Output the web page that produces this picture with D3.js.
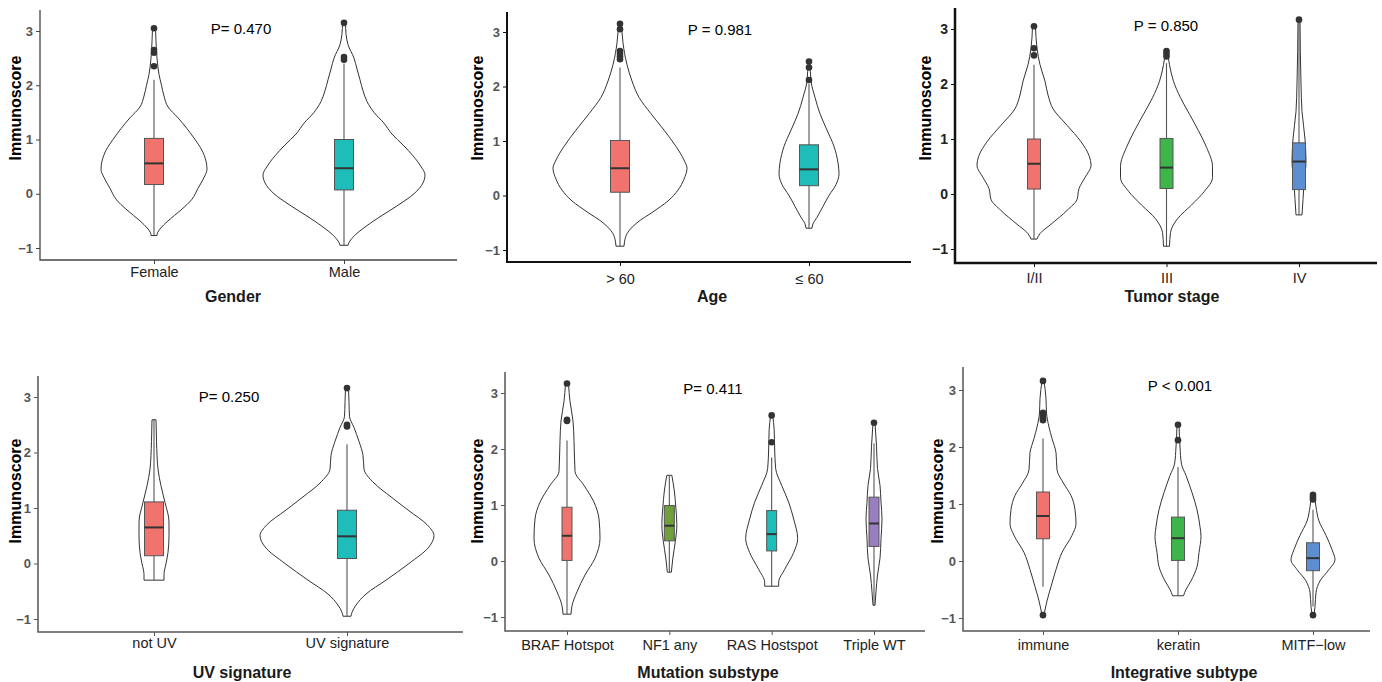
<!DOCTYPE html>
<html><head><meta charset="utf-8">
<script src="https://cdn.jsdelivr.net/npm/d3@7"></script>
<style>
body{margin:0;background:#fff}
svg{display:block}
text{font-family:"Liberation Sans", Arial, sans-serif}
</style>
</head><body>
<svg id="c" width="1382" height="682"></svg>
<script>
// ---------- shared tick data ----------
const yTicks = [3, 2, 1, 0, -1];
const yTickLabels = ["3", "2", "1", "0", "\u22121"];
const yTitle = "Immunoscore";

// ---------- Panel 1: Gender ----------
const genderCats = ["Female", "Male"];
const genderP = "P= 0.470";
// [lower whisker, Q1, median, Q3, upper whisker]
const genderBox = [[-0.77, 0.17, 0.56, 1.02, 2.1], [-0.95, 0.07, 0.47, 1.0, 2.4]];
const genderOut = [[3.05, 2.65, 2.6, 2.35], [3.15, 2.52, 2.47]];
// violin knots: [value, density]
const genderViolin = [
  [[3.05,1.5],[2.8,2],[2.5,3],[2.2,5],[2.0,7.5],[1.8,10],[1.6,14],[1.4,24],[1.2,33],[1.0,41],[0.8,48],[0.6,52],[0.45,53],[0.3,50],[0.1,44],[-0.1,38],[-0.3,27],[-0.5,14],[-0.65,6],[-0.72,3.5],[-0.77,3]],
  [[3.15,1.5],[2.95,2],[2.75,4],[2.5,10],[2.3,13],[2.1,16],[1.9,19],[1.7,23],[1.5,30],[1.3,40],[1.1,48],[0.9,59],[0.7,69],[0.5,77],[0.35,81],[0.2,79],[0.0,70],[-0.2,55],[-0.4,38],[-0.6,22],[-0.8,9],[-0.9,5],[-0.95,4]]
];

// ---------- Panel 2: Age ----------
const ageCats = ["> 60", "\u2264 60"];
const ageP = "P = 0.981";
const ageBox = [[-0.93, 0.06, 0.50, 1.01, 2.35], [-0.6, 0.18, 0.48, 0.93, 2.05]];
const ageOut = [[3.15, 3.05, 2.65, 2.6, 2.55, 2.5], [2.46, 2.35, 2.12]];
const ageViolin = [
  [[3.17,1.5],[2.8,3],[2.4,7],[2.1,12],[1.8,19],[1.5,31],[1.2,44],[0.9,56],[0.65,64],[0.5,67],[0.3,64],[0.1,58],[-0.1,48],[-0.3,33],[-0.5,17],[-0.7,7],[-0.85,4.5],[-0.93,4]],
  [[2.46,1],[2.1,2],[1.8,6],[1.5,11],[1.2,18],[0.9,25],[0.6,29],[0.4,30],[0.2,27],[0.0,20],[-0.2,14],[-0.4,8],[-0.52,4],[-0.6,3]]
];

// ---------- Panel 3: Tumor stage ----------
const stageCats = ["I/II", "III", "IV"];
const stageP = "P = 0.850";
const stageBox = [[-0.82, 0.09, 0.55, 1.0, 2.35], [-0.95, 0.1, 0.48, 1.01, 2.38], [-0.38, 0.08, 0.59, 0.93, 3.17]];
const stageOut = [[3.05, 2.65, 2.52], [2.6, 2.55, 2.5], [3.17]];
const stageViolin = [
  [[3.05,1.5],[2.65,3],[2.35,6],[2.05,11],[1.8,14],[1.55,19],[1.25,33],[0.95,47],[0.7,55],[0.52,57],[0.3,51],[0.1,45],[-0.1,43],[-0.3,33],[-0.55,17],[-0.72,6],[-0.82,3]],
  [[2.6,1],[2.35,3],[2.05,7],[1.75,14],[1.45,23],[1.15,32],[0.85,40],[0.5,46],[0.3,46],[0.05,38],[-0.2,25],[-0.45,11],[-0.7,4],[-0.95,3]],
  [[3.17,1],[2.0,2],[1.5,3],[1.0,6],[0.6,7],[0.2,5],[-0.1,4],[-0.38,3]]
];

// ---------- Panel 4: UV signature ----------
const uvCats = ["not UV", "UV signature"];
const uvP = "P= 0.250";
const uvBox = [[-0.3, 0.14, 0.65, 1.11, 2.59], [-0.95, 0.09, 0.49, 0.96, 2.15]];
const uvOut = [[], [3.16, 2.5, 2.47]];
const uvViolin = [
  [[2.59,2],[2.2,2.5],[1.7,4],[1.4,7],[1.1,11],[0.75,15],[0.5,15],[0.2,14],[0.0,12],[-0.2,10],[-0.3,10]],
  [[3.16,1.5],[2.9,2],[2.65,2.5],[2.45,7],[2.2,12],[1.95,16],[1.7,17],[1.45,27],[1.2,44],[0.95,62],[0.7,80],[0.5,87],[0.3,82],[0.0,62],[-0.3,39],[-0.55,19],[-0.75,9],[-0.88,5],[-0.95,4]]
];

// ---------- Panel 5: Mutation substype ----------
const mutCats = ["BRAF Hotspot", "NF1 any", "RAS Hostspot", "Triple WT"];
const mutP = "P= 0.411";
const mutBox = [[-0.95, 0.01, 0.45, 0.96, 2.15], [-0.2, 0.36, 0.63, 0.99, 1.53], [-0.45, 0.18, 0.48, 0.9, 1.85], [-0.79, 0.26, 0.67, 1.14, 2.1]];
const mutOut = [[3.17, 2.52, 2.5], [], [2.6, 2.12], [2.47]];
const mutViolin = [
  [[3.17,1.5],[2.85,3],[2.5,6],[2.15,7],[1.6,8],[1.35,17],[1.05,27],[0.75,32],[0.4,33],[0.05,28],[-0.25,18],[-0.55,10],[-0.8,5],[-0.95,4]],
  [[1.53,2.5],[1.25,5],[0.95,6.5],[0.65,7.5],[0.35,6],[0.05,3.5],[-0.2,2]],
  [[2.6,1],[2.35,2.5],[2.0,3],[1.65,4],[1.35,10],[1.05,17],[0.75,22],[0.4,26],[0.15,22],[-0.15,13],[-0.38,7],[-0.45,7]],
  [[2.47,1],[2.05,2.5],[1.65,3.5],[1.35,6],[1.05,7],[0.75,8],[0.4,7],[0.05,6],[-0.25,3.5],[-0.55,2],[-0.79,1]]
];

// ---------- Panel 6: Integrative subtype ----------
const intCats = ["immune", "keratin", "MITF\u2212low"];
const intP = "P < 0.001";
const intBox = [[-0.45, 0.39, 0.79, 1.21, 2.15], [-0.61, 0.01, 0.4, 0.77, 1.65], [-0.8, -0.17, 0.05, 0.32, 0.9]];
const intOut = [[3.16, 2.6, 2.57, 2.53, 2.5, 2.47, -0.95], [2.39, 2.12], [1.16, 1.12, 1.08, -0.95]];
const intViolin = [
  [[3.16,1],[2.85,3],[2.6,3.5],[2.35,6],[2.15,9],[1.9,13],[1.6,14],[1.35,21],[1.15,28],[0.9,32],[0.65,33],[0.45,29],[0.15,19],[-0.15,13],[-0.45,8],[-0.7,4],[-0.95,1]],
  [[2.39,1],[2.0,2],[1.7,3.5],[1.5,8],[1.2,14],[0.9,19],[0.6,22],[0.43,23],[0.15,21],[-0.1,19],[-0.35,13],[-0.5,8],[-0.61,5.5]],
  [[1.16,1.5],[0.95,3],[0.7,6],[0.45,13],[0.2,19],[0.02,22],[-0.15,16],[-0.35,7],[-0.55,3],[-0.8,2],[-0.95,1]]
];

// ---------- colours ----------
const col2 = ["#F0736E", "#1FBDB9"];
const col3 = ["#F0736E", "#3DB54A", "#5B8FD1"];
const col4 = ["#F0736E", "#6FA03C", "#1FBDB9", "#9B7EC2"];

// ---------- layout ----------
const panels = [
  {title:"Gender", cats:genderCats, box:genderBox, out:genderOut, vio:genderViolin, p:genderP, colors:col2,
   ax:40, top:10, bottom:260, y3:31, ym1:248, c0:154, c1:344, xEnd:457, bw:19, axCol:"#444", axW:1.3,
   tickBase:277, tickCol:"#555", tickSize:13, xTitleX:233, xTitleY:302, yTitleX:21, yTitleY:108, pX:241, pY:34},
  {title:"Age", cats:ageCats, box:ageBox, out:ageOut, vio:ageViolin, p:ageP, colors:col2,
   ax:507, top:12, bottom:262, y3:32, ym1:250, c0:620, c1:809, xEnd:911, bw:19, axCol:"#111", axW:2,
   tickBase:284, tickCol:"#555", tickSize:13, xTitleX:712, xTitleY:302, yTitleX:483, yTitleY:108, pX:720, pY:35},
  {title:"Tumor stage", cats:stageCats, box:stageBox, out:stageOut, vio:stageViolin, p:stageP, colors:col3,
   ax:955, top:8, bottom:263, y3:29, ym1:249, c0:1034, c1:1299, xEnd:1377, bw:13, axCol:"#111", axW:2.5,
   tickBase:283, tickCol:"#222", tickSize:14, xTitleX:1172, xTitleY:302, yTitleX:931, yTitleY:108, pX:1166, pY:31, clipX:919},
  {title:"UV signature", cats:uvCats, box:uvBox, out:uvOut, vio:uvViolin, p:uvP, colors:col2,
   ax:38, top:376, bottom:632, y3:397, ym1:619, c0:154, c1:347, xEnd:463, bw:19, axCol:"#555", axW:1.5,
   tickBase:648, tickCol:"#555", tickSize:13, xTitleX:242, xTitleY:678, yTitleX:21, yTitleY:491, pX:229, pY:402},
  {title:"Mutation substype", cats:mutCats, box:mutBox, out:mutOut, vio:mutViolin, p:mutP, colors:col4,
   ax:505, top:372, bottom:631, y3:393, ym1:617, c0:567, c1:874, xEnd:925, bw:10, axCol:"#555", axW:1.5,
   tickBase:650, tickCol:"#555", tickSize:13, xTitleX:708, xTitleY:678, yTitleX:483, yTitleY:491, pX:713, pY:394},
  {title:"Integrative subtype", cats:intCats, box:intBox, out:intOut, vio:intViolin, p:intP, colors:col3,
   ax:963, top:367, bottom:631, y3:390, ym1:618, c0:1043, c1:1313, xEnd:1370, bw:13, axCol:"#555", axW:1.5,
   tickBase:650, tickCol:"#555", tickSize:13, xTitleX:1184, xTitleY:678, yTitleX:943, yTitleY:491, pX:1180, pY:391}
];

const svg = d3.select("#c");
const defs = svg.append("defs");
const FS_X = 14.5;

panels.forEach((cfg, pi) => {
  const g = svg.append("g");
  const y = d3.scaleLinear().domain([-1, 3]).range([cfg.ym1, cfg.y3]);
  const x = d3.scalePoint().domain(cfg.cats).range([cfg.c0, cfg.c1]).padding(0);
  const w = d3.scaleLinear().domain([0, 100]).range([0, 100]);

  // violins
  cfg.vio.forEach((knots, i) => {
    const cx = x(cfg.cats[i]);
    const area = d3.area()
      .y(d => y(d[0]))
      .x0(d => cx - w(d[1]))
      .x1(d => cx + w(d[1]))
      .curve(d3.curveMonotoneY);
    g.append("path").attr("d", area(knots))
      .attr("fill", "#fff").attr("stroke", "#333").attr("stroke-width", 1);
  });

  // boxplots
  cfg.box.forEach((b, i) => {
    const cx = x(cfg.cats[i]);
    g.append("line").attr("x1", cx).attr("x2", cx).attr("y1", y(b[0])).attr("y2", y(b[4]))
      .attr("stroke", "#555").attr("stroke-width", 1.1);
    g.append("rect").attr("x", cx - cfg.bw / 2).attr("width", cfg.bw)
      .attr("y", y(b[3])).attr("height", y(b[1]) - y(b[3]))
      .attr("fill", cfg.colors[i]).attr("stroke", "#555").attr("stroke-width", 1);
    g.append("line").attr("x1", cx - cfg.bw / 2).attr("x2", cx + cfg.bw / 2)
      .attr("y1", y(b[2])).attr("y2", y(b[2])).attr("stroke", "#333").attr("stroke-width", 2);
    cfg.out[i].forEach(o => {
      g.append("circle").attr("cx", cx).attr("cy", y(o)).attr("r", 3.3).attr("fill", "#333");
    });
  });

  // y axis
  const yAx = g.append("g").attr("transform", `translate(${cfg.ax},0)`)
    .call(d3.axisLeft(y).tickValues(yTicks).tickFormat((d, i) => yTickLabels[i]).tickSize(4).tickPadding(3));
  yAx.select(".domain").remove();
  yAx.selectAll(".tick line").attr("stroke", cfg.axCol).attr("stroke-width", 1);
  yAx.selectAll(".tick text").attr("font-size", cfg.tickSize).attr("font-weight", "bold")
    .attr("fill", cfg.tickCol).style("font-family", '"Liberation Sans", Arial, sans-serif');

  // x axis
  const pad = cfg.tickBase - cfg.bottom - 4 - 0.71 * FS_X;
  const xAx = g.append("g").attr("transform", `translate(0,${cfg.bottom})`)
    .call(d3.axisBottom(x).tickSize(4).tickPadding(pad));
  xAx.select(".domain").remove();
  xAx.selectAll(".tick line").attr("stroke", cfg.axCol).attr("stroke-width", 1);
  xAx.selectAll(".tick text").attr("font-size", FS_X).attr("fill", "#222")
    .style("font-family", '"Liberation Sans", Arial, sans-serif');

  // axis lines
  g.append("path").attr("d", `M${cfg.ax},${cfg.top}V${cfg.bottom}H${cfg.xEnd}`)
    .attr("fill", "none").attr("stroke", cfg.axCol).attr("stroke-width", cfg.axW);

  // titles
  g.append("text").attr("x", cfg.xTitleX).attr("y", cfg.xTitleY).attr("text-anchor", "middle")
    .attr("font-size", 16).attr("font-weight", "bold").attr("fill", "#1a1a1a").text(cfg.title);

  const yt = g.append("text")
    .attr("transform", `translate(${cfg.yTitleX},${cfg.yTitleY}) rotate(-90)`)
    .attr("text-anchor", "middle").attr("font-size", 16).attr("font-weight", "bold")
    .attr("fill", "#000").text(yTitle);
  if (cfg.clipX !== undefined) {
    defs.append("clipPath").attr("id", "clip" + pi).attr("clipPathUnits", "userSpaceOnUse")
      .append("rect").attr("x", cfg.clipX).attr("y", 0).attr("width", 200).attr("height", 682);
    const wrap = g.append("g").attr("clip-path", `url(#clip${pi})`);
    wrap.node().appendChild(yt.node());
  }

  g.append("text").attr("x", cfg.pX).attr("y", cfg.pY).attr("text-anchor", "middle")
    .attr("font-size", 15).attr("fill", "#000").text(cfg.p);
});
</script>
</body></html>
